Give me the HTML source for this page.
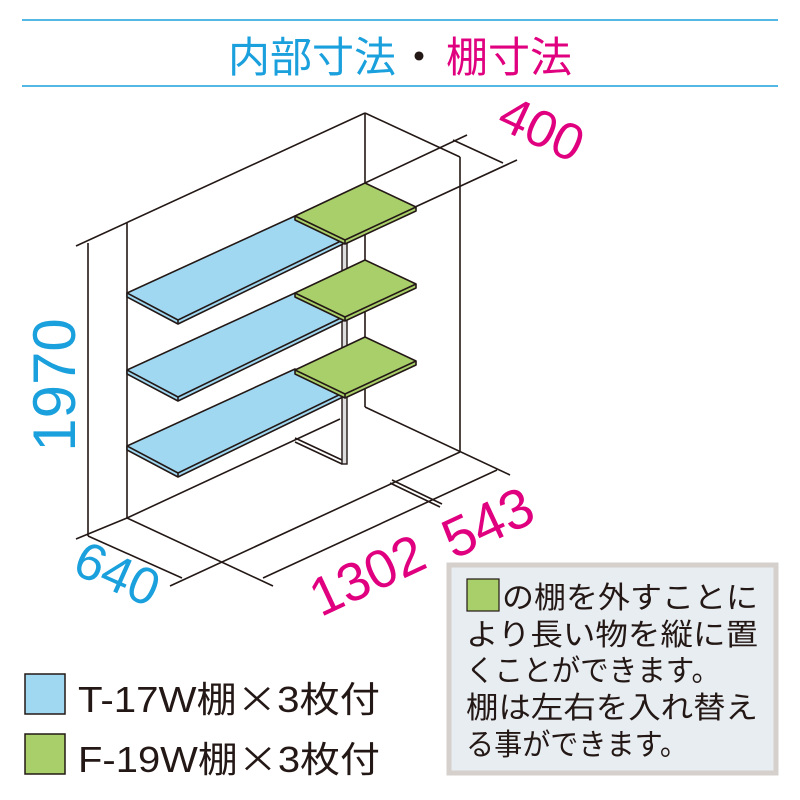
<!DOCTYPE html>
<html><head><meta charset="utf-8"><style>
html,body{margin:0;padding:0;background:#fff}
svg{display:block}
text{font-family:"Liberation Sans","Noto Sans CJK JP",sans-serif}
</style></head><body>
<svg width="800" height="800" viewBox="0 0 800 800" xmlns="http://www.w3.org/2000/svg">
<line x1="22" y1="20" x2="778" y2="20" stroke="#1aa0dc" stroke-width="1.5"/>
<line x1="22" y1="86" x2="778" y2="86" stroke="#1aa0dc" stroke-width="1.5"/>
<text x="228" y="72" font-size="42" fill="#1aa0dc">内部寸法</text>
<text x="398" y="72" font-size="42" fill="#231815">・</text>
<text x="446" y="72" font-size="42" fill="#e0007f">棚寸法</text>

<g stroke="#231815" stroke-width="1.6" fill="none">
<line x1="76" y1="246" x2="365" y2="113"/>
<line x1="365" y1="113" x2="365" y2="407"/>
<line x1="365" y1="113" x2="460" y2="157"/>
<line x1="460" y1="157" x2="460" y2="452"/>
<line x1="88" y1="243" x2="88" y2="536"/>
<line x1="127" y1="223" x2="127" y2="518"/>
<line x1="76" y1="539" x2="127" y2="518"/>
<line x1="88" y1="536" x2="182" y2="578"/>
<line x1="127" y1="518" x2="273" y2="586"/>
<line x1="127" y1="518" x2="340" y2="419"/>
<line x1="365" y1="407" x2="510" y2="475"/>
<line x1="170" y1="586" x2="460" y2="452"/>
<line x1="263" y1="578" x2="497" y2="470"/>
<line x1="390" y1="483" x2="440" y2="507"/>
<line x1="392" y1="480" x2="442" y2="504"/>
<line x1="365" y1="183" x2="467" y2="135"/>
<line x1="413" y1="208" x2="517" y2="160"/>
<line x1="453" y1="140" x2="503" y2="163"/>
<line x1="295" y1="438" x2="342" y2="460"/>
<line x1="295" y1="442" x2="342" y2="464"/>
</g>
<rect x="342" y="240" width="5" height="224" fill="#ddd" stroke="#231815" stroke-width="1.4"/>
<g stroke="#231815" stroke-width="1.6" fill="#a0d8f2" stroke-linejoin="round">
<g id="b"><polygon points="127,293 295,216 343,240 343,244 178,324 127,297"/><polyline points="127,293 178,320 343,240" fill="none"/><line x1="178" y1="320" x2="178" y2="324"/></g>
<use href="#b" transform="translate(0,77)"/>
<use href="#b" transform="translate(0,153)"/>
</g>
<g stroke="#231815" stroke-width="1.6" fill="#a9cf6a" stroke-linejoin="round">
<g id="g"><polygon points="295,216 365,183 416,207 416,211 345,244 295,220"/><polyline points="295,216 345,240 416,207" fill="none"/><line x1="345" y1="240" x2="345" y2="244"/></g>
<use href="#g" transform="translate(0,77)"/>
<use href="#g" transform="translate(0,154)"/>
</g>

<text transform="translate(75,385) rotate(-90)" font-size="60" fill="#1aa0dc" text-anchor="middle">1970</text>
<text transform="translate(110,590) rotate(24)" font-size="52" fill="#1aa0dc" text-anchor="middle">640</text>
<text transform="translate(375,592) rotate(-25)" font-size="54" fill="#e0007f" text-anchor="middle">1302</text>
<text transform="translate(496,540) rotate(-25)" font-size="56" fill="#e0007f" text-anchor="middle">543</text>
<text transform="translate(534,145) rotate(25)" font-size="52" fill="#e0007f" text-anchor="middle">400</text>

<rect x="25" y="674" width="40" height="40" fill="#a0d8f2" stroke="#231815" stroke-width="1.5"/>
<rect x="25" y="734" width="40" height="40" fill="#a9cf6a" stroke="#231815" stroke-width="1.5"/>
<text x="78" y="712" font-size="36" fill="#231815" textLength="302" lengthAdjust="spacingAndGlyphs">T-17W棚<tspan font-family="Noto Sans CJK JP">×</tspan>3枚付</text>
<text x="78" y="772" font-size="36" fill="#231815" textLength="302" lengthAdjust="spacingAndGlyphs">F-19W棚<tspan font-family="Noto Sans CJK JP">×</tspan>3枚付</text>

<rect x="449" y="565" width="327" height="208" fill="#e8edf1" stroke="#d5d0cc" stroke-width="5"/>
<rect x="467" y="579" width="32" height="32" fill="#a9cf6a" stroke="#231815" stroke-width="1.2"/>
<g font-size="30" fill="#231815">
<text x="502" y="608" textLength="256" lengthAdjust="spacingAndGlyphs">の棚を外すことに</text>
<text x="466" y="645" textLength="292" lengthAdjust="spacingAndGlyphs">より長い物を縦に置</text>
<text x="466" y="681" textLength="254" lengthAdjust="spacingAndGlyphs">くことができます。</text>
<text x="466" y="718" textLength="292" lengthAdjust="spacingAndGlyphs">棚は左右を入れ替え</text>
<text x="466" y="755" textLength="222" lengthAdjust="spacingAndGlyphs">る事ができます。</text>
</g>
</svg>
</body></html>
